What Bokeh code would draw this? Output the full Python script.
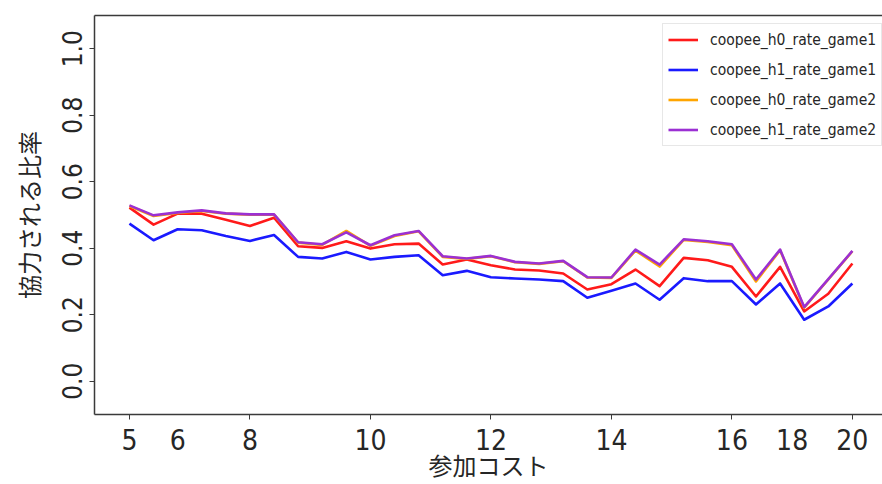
from bokeh.plotting import figure
from bokeh.models import (Range1d, FixedTicker, LinearAxis, Legend, LegendItem,
                          PrintfTickFormatter)
from bokeh.embed import file_html
from bokeh.resources import INLINE

# participation-cost steps (31 settings, plotted by step index)
cost_pos = list(range(31))

h0_rate_game1 = [0.522, 0.471, 0.504, 0.504, 0.486, 0.467, 0.492, 0.406, 0.401, 0.421,
                 0.399, 0.412, 0.414, 0.351, 0.366, 0.349, 0.336, 0.333, 0.324, 0.276,
                 0.292, 0.336, 0.286, 0.371, 0.364, 0.344, 0.255, 0.344, 0.210, 0.263,
                 0.354]
h1_rate_game1 = [0.474, 0.424, 0.457, 0.454, 0.437, 0.422, 0.440, 0.374, 0.369, 0.389,
                 0.366, 0.374, 0.379, 0.319, 0.332, 0.313, 0.309, 0.306, 0.301, 0.251,
                 0.272, 0.294, 0.245, 0.310, 0.301, 0.301, 0.231, 0.294, 0.185, 0.225,
                 0.294]
h0_rate_game2 = [0.527, 0.497, 0.506, 0.512, 0.504, 0.501, 0.501, 0.417, 0.410, 0.452,
                 0.407, 0.437, 0.451, 0.374, 0.368, 0.376, 0.358, 0.353, 0.361, 0.312,
                 0.311, 0.393, 0.345, 0.425, 0.419, 0.409, 0.300, 0.394, 0.221, 0.306,
                 0.391]
h1_rate_game2 = [0.529, 0.499, 0.508, 0.514, 0.505, 0.502, 0.502, 0.418, 0.412, 0.448,
                 0.409, 0.439, 0.452, 0.376, 0.369, 0.377, 0.359, 0.354, 0.362, 0.313,
                 0.312, 0.396, 0.351, 0.427, 0.421, 0.412, 0.306, 0.396, 0.223, 0.307,
                 0.392]

series_names = ["coopee_h0_rate_game1", "coopee_h1_rate_game1",
                "coopee_h0_rate_game2", "coopee_h1_rate_game2"]
series_colors = ["#ff1a1a", "#1a1aff", "#ffa500", "#9b30d3"]

# x tick labels and where they sit; tick marks every fifth step
tick_pos = [0, 2, 5, 10, 15, 20, 25, 27.5, 30]
tick_text = ["5", "6", "8", "10", "12", "14", "16", "18", "20"]
mark_pos = [0, 5, 10, 15, 20, 25, 30]
y_ticks = [0.0, 0.2, 0.4, 0.6, 0.8, 1.0]

NUM_FONT = "DejaVu Sans Condensed"
JP_FONT = "Noto Sans CJK JP"
AXIS_COLOR = "#3a3a3a"
TEXT_COLOR = "#262626"

p = figure(width=882, height=484, output_backend="svg", toolbar_location=None,
           x_range=Range1d(-1.45, 31.25), y_range=Range1d(-0.1, 1.1),
           x_axis_location=None, min_border_left=94, min_border_right=0,
           min_border_top=15, min_border_bottom=70)
p.grid.visible = False
p.outline_line_color = None
p.background_fill_color = "white"

# y axis
yax = p.yaxis[0]
yax.ticker = FixedTicker(ticks=y_ticks)
yax.formatter = PrintfTickFormatter(format="%.1f")
yax.major_label_orientation = "vertical"
yax.major_label_text_font = NUM_FONT
yax.major_label_text_font_size = "26px"
yax.major_label_text_color = TEXT_COLOR
yax.major_label_standoff = 8
yax.major_tick_in = 0
yax.major_tick_out = 5
yax.major_tick_line_color = AXIS_COLOR
yax.minor_tick_line_color = None
yax.axis_line_color = AXIS_COLOR
yax.axis_line_width = 1.5
yax.axis_label = "協力される比率"
yax.axis_label_text_font = JP_FONT
yax.axis_label_text_font_size = "24px"
yax.axis_label_text_font_style = "normal"
yax.axis_label_text_color = TEXT_COLOR
yax.axis_label_standoff = 13

# bottom: frame line with tick marks
xmarks = LinearAxis(ticker=FixedTicker(ticks=mark_pos),
                    major_label_text_font_size="0px", major_label_standoff=0,
                    major_tick_in=0, major_tick_out=5,
                    major_tick_line_color=AXIS_COLOR, minor_tick_line_color=None,
                    axis_line_color=AXIS_COLOR, axis_line_width=1.5)
p.add_layout(xmarks, "below")

# bottom: tick labels and axis title
xlabels = LinearAxis(ticker=FixedTicker(ticks=tick_pos),
                     major_label_overrides={k: t for k, t in zip(tick_pos, tick_text)},
                     major_label_text_font=NUM_FONT, major_label_text_font_size="28px",
                     major_label_text_color=TEXT_COLOR, major_label_standoff=3,
                     major_tick_line_color=None, minor_tick_line_color=None,
                     axis_line_color=None,
                     axis_label="参加コスト", axis_label_text_font=JP_FONT,
                     axis_label_text_font_size="24px", axis_label_text_font_style="normal",
                     axis_label_text_color=TEXT_COLOR, axis_label_standoff=-6)
p.add_layout(xlabels, "below")

# top frame line
top = LinearAxis(ticker=FixedTicker(ticks=[]), major_label_text_font_size="0px",
                 major_tick_line_color=None, minor_tick_line_color=None,
                 axis_line_color=AXIS_COLOR, axis_line_width=1.5)
p.add_layout(top, "above")

items = []
for name, ys, col in zip(series_names,
                         [h0_rate_game1, h1_rate_game1, h0_rate_game2, h1_rate_game2],
                         series_colors):
    r = p.line(cost_pos, ys, line_color=col, line_width=2.6, line_join="round")
    items.append(LegendItem(label=name, renderers=[r]))

legend = Legend(items=items, location=(568, 268),
                label_text_font=NUM_FONT, label_text_font_size="15.5px",
                label_text_color=TEXT_COLOR,
                glyph_width=30, glyph_height=21, label_standoff=12,
                spacing=9, padding=5, margin=0,
                border_line_color="#d0d0d0", border_line_width=1,
                background_fill_color="white", background_fill_alpha=0.9)
p.add_layout(legend)

open("out.html", "w").write(file_html(p, INLINE))
